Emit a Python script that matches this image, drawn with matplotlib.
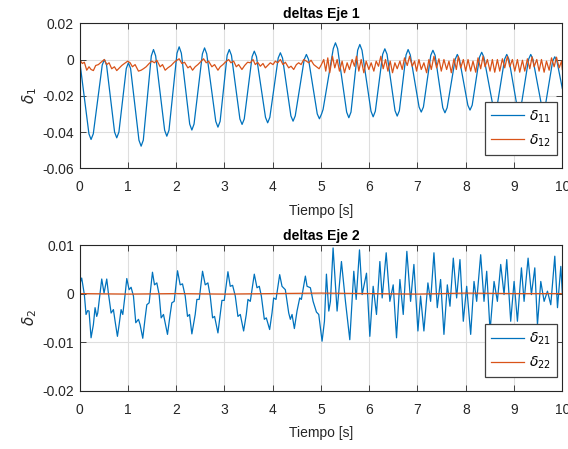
import numpy as np
import matplotlib
matplotlib.use("Agg")
import matplotlib.pyplot as plt

# colores por defecto de MATLAB
AZUL = "#0072BD"
NARANJA = "#D95319"
GRIS = "#262626"

# ---------------- datos ----------------
# Eje 1: delta 11 (azul)
t11 = [0.000, 0.195, 0.239, 0.285, 0.470, 0.515, 0.560, 0.726, 0.771, 0.816,
       0.968, 1.013, 1.058, 1.231, 1.276, 1.321, 1.487, 1.532, 1.577, 1.763,
       1.808, 1.853, 2.019, 2.064, 2.109, 2.282, 2.327, 2.372, 2.545, 2.590,
       2.635, 2.822, 2.867, 2.912, 3.057, 3.102, 3.147, 3.322, 3.367, 3.412,
       3.575, 3.620, 3.665, 3.852, 3.897, 3.942, 4.115, 4.160, 4.205, 4.378,
       4.423, 4.468, 4.654, 4.699, 4.744, 4.924, 4.969, 5.014, 5.045, 5.256,
       5.301, 5.346, 5.533, 5.578, 5.623, 5.761, 5.806, 5.851, 6.037, 6.082,
       6.127, 6.279, 6.324, 6.369, 6.535, 6.580, 6.625, 6.763, 6.806, 6.851,
       7.033, 7.078, 7.123, 7.275, 7.320, 7.365, 7.524, 7.569, 7.614, 7.780,
       7.825, 7.870, 8.043, 8.088, 8.133, 8.285, 8.330, 8.375, 8.561, 8.606,
       8.651, 8.804, 8.849, 8.894, 9.059, 9.104, 9.149, 9.301, 9.346, 9.391,
       9.564, 9.609, 9.654, 9.799, 9.844, 9.889, 10.000]
d11 = [0.0000, -0.0410, -0.0441, -0.0410, -0.0031, 0.0000, -0.0031, -0.0400, -0.0432, -0.0400,
       -0.0050, -0.0018, -0.0050, -0.0445, -0.0478, -0.0445, 0.0020, 0.0055, 0.0020, -0.0390,
       -0.0423, -0.0390, 0.0035, 0.0070, 0.0035, -0.0356, -0.0389, -0.0356, 0.0031, 0.0064,
       0.0031, -0.0341, -0.0373, -0.0341, 0.0023, 0.0055, 0.0023, -0.0328, -0.0358, -0.0328,
       0.0016, 0.0046, 0.0016, -0.0319, -0.0349, -0.0319, 0.0008, 0.0037, 0.0008, -0.0311,
       -0.0340, -0.0311, 0.0000, 0.0028, 0.0000, -0.0300, -0.0327, -0.0300, -0.0275, 0.0060,
       0.0092, 0.0060, -0.0290, -0.0321, -0.0290, 0.0051, 0.0083, 0.0051, -0.0285, -0.0316,
       -0.0285, 0.0029, 0.0059, 0.0029, -0.0282, -0.0312, -0.0282, 0.0025, 0.0055, 0.0025,
       -0.0262, -0.0290, -0.0262, 0.0023, 0.0051, 0.0023, -0.0266, -0.0294, -0.0266, 0.0000,
       0.0028, 0.0000, -0.0252, -0.0279, -0.0252, 0.0013, 0.0040, 0.0013, -0.0253, -0.0280,
       -0.0253, 0.0001, 0.0028, 0.0001, -0.0253, -0.0280, -0.0253, 0.0001, 0.0028, 0.0001,
       -0.0245, -0.0270, -0.0245, -0.0010, 0.0015, -0.0010, -0.0160]

# Eje 1: delta 12 (naranja)
t12 = [0.000, 0.059, 0.100, 0.149, 0.197, 0.239, 0.287, 0.335, 0.391, 0.446,
       0.515, 0.564, 0.612, 0.667, 0.723, 0.771, 0.826, 0.875, 0.930, 0.999,
       1.048, 1.096, 1.151, 1.221, 1.276, 1.324, 1.380, 1.442, 1.497, 1.553,
       1.601, 1.670, 1.719, 1.774, 1.829, 1.898, 1.961, 2.016, 2.064, 2.120,
       2.175, 2.244, 2.293, 2.341, 2.396, 2.451, 2.521, 2.569, 2.624, 2.673,
       2.742, 2.797, 2.867, 2.915, 2.970, 3.019, 3.088, 3.136, 3.192, 3.247,
       3.295, 3.364, 3.420, 3.482, 3.537, 3.593, 3.641, 3.690, 3.745, 3.800,
       3.849, 3.897, 3.952, 4.008, 4.056, 4.104, 4.160, 4.215, 4.263, 4.333,
       4.381, 4.436, 4.492, 4.540, 4.589, 4.644, 4.699, 4.747, 4.796, 4.851,
       4.907, 4.962, 5.010, 5.059, 5.100, 5.142, 5.183, 5.239, 5.287, 5.336,
       5.384, 5.439, 5.488, 5.543, 5.591, 5.647, 5.695, 5.737, 5.785, 5.834,
       5.889, 5.937, 5.993, 6.041, 6.096, 6.145, 6.193, 6.241, 6.290, 6.338,
       6.387, 6.435, 6.483, 6.532, 6.580, 6.636, 6.684, 6.732, 6.788, 6.836,
       6.891, 6.940, 6.981, 7.030, 7.078, 7.133, 7.189, 7.237, 7.286, 7.341,
       7.396, 7.444, 7.493, 7.548, 7.604, 7.652, 7.701, 7.756, 7.805, 7.846,
       7.895, 7.950, 7.998, 8.047, 8.102, 8.150, 8.206, 8.254, 8.309, 8.358,
       8.399, 8.448, 8.503, 8.551, 8.600, 8.655, 8.704, 8.759, 8.807, 8.863,
       8.911, 8.966, 9.015, 9.070, 9.118, 9.174, 9.222, 9.277, 9.326, 9.374,
       9.416, 9.471, 9.519, 9.568, 9.623, 9.672, 9.727, 9.776, 9.831, 9.879,
       9.935, 9.983, 10.000]
d12 = [0.0000, -0.0022, -0.0015, -0.0059, -0.0040, -0.0055, -0.0061, -0.0033, -0.0028, -0.0015,
       0.0000, -0.0028, -0.0018, -0.0051, -0.0040, -0.0061, -0.0046, -0.0033, -0.0022, -0.0009,
       -0.0018, -0.0040, -0.0028, -0.0064, -0.0059, -0.0051, -0.0040, -0.0022, -0.0009, -0.0018,
       -0.0004, -0.0040, -0.0028, -0.0059, -0.0046, -0.0033, -0.0015, -0.0004, 0.0004, -0.0022,
       -0.0015, -0.0046, -0.0037, -0.0059, -0.0040, -0.0028, -0.0009, 0.0004, -0.0018, -0.0009,
       -0.0040, -0.0028, -0.0059, -0.0040, -0.0028, -0.0015, 0.0000, -0.0018, -0.0009, -0.0040,
       -0.0028, -0.0055, -0.0033, -0.0015, -0.0018, 0.0000, -0.0028, -0.0015, -0.0037, -0.0022,
       -0.0046, -0.0033, -0.0018, -0.0028, -0.0009, -0.0018, 0.0000, -0.0028, -0.0015, -0.0046,
       -0.0037, -0.0055, -0.0028, -0.0018, -0.0028, 0.0000, -0.0009, -0.0018, -0.0004, -0.0028,
       -0.0040, -0.0051, -0.0028, 0.0000, -0.0064, 0.0009, -0.0073, 0.0018, -0.0046, 0.0000,
       -0.0064, -0.0009, -0.0073, -0.0018, -0.0055, 0.0000, -0.0037, 0.0018, -0.0064, 0.0000,
       -0.0073, -0.0009, -0.0055, -0.0018, -0.0064, -0.0009, -0.0037, 0.0018, -0.0051, 0.0000,
       -0.0064, -0.0009, -0.0073, -0.0018, -0.0051, -0.0009, -0.0055, 0.0009, -0.0033, 0.0018,
       -0.0037, -0.0009, -0.0064, 0.0000, -0.0055, -0.0018, -0.0073, 0.0000, -0.0055, 0.0018,
       -0.0046, 0.0004, -0.0064, 0.0000, -0.0055, -0.0009, -0.0073, 0.0004, -0.0055, 0.0018,
       -0.0046, 0.0000, -0.0064, 0.0000, -0.0064, -0.0009, -0.0070, 0.0009, -0.0051, 0.0018,
       -0.0040, 0.0000, -0.0064, 0.0000, -0.0070, 0.0000, -0.0064, 0.0004, -0.0046, 0.0018,
       -0.0040, 0.0000, -0.0064, 0.0000, -0.0070, -0.0004, -0.0064, 0.0004, -0.0051, 0.0015,
       -0.0040, 0.0000, -0.0064, 0.0000, -0.0070, -0.0009, -0.0059, 0.0009, -0.0040, 0.0013,
       -0.0046, -0.0009, -0.0055]

# Eje 2: delta 21 (azul)
t21 = [0.000, 0.045, 0.100, 0.135, 0.169, 0.197, 0.239, 0.287, 0.322, 0.356,
       0.377, 0.425, 0.460, 0.508, 0.564, 0.598, 0.654, 0.702, 0.737, 0.785,
       0.820, 0.861, 0.896, 0.944, 0.979, 1.027, 1.068, 1.117, 1.165, 1.221,
       1.255, 1.310, 1.359, 1.394, 1.442, 1.511, 1.553, 1.601, 1.649, 1.691,
       1.739, 1.774, 1.822, 1.877, 1.912, 1.961, 2.030, 2.085, 2.133, 2.189,
       2.237, 2.279, 2.327, 2.396, 2.431, 2.479, 2.548, 2.604, 2.659, 2.707,
       2.756, 2.797, 2.867, 2.915, 2.950, 2.998, 3.074, 3.122, 3.171, 3.226,
       3.281, 3.330, 3.399, 3.454, 3.489, 3.537, 3.620, 3.676, 3.724, 3.766,
       3.828, 3.869, 3.938, 3.987, 4.021, 4.070, 4.146, 4.194, 4.263, 4.333,
       4.367, 4.402, 4.450, 4.505, 4.561, 4.595, 4.678, 4.713, 4.782, 4.838,
       4.907, 4.955, 5.024, 5.073, 5.114, 5.163, 5.197, 5.252, 5.335, 5.425,
       5.508, 5.598, 5.681, 5.730, 5.799, 5.854, 5.944, 6.013, 6.082, 6.151,
       6.221, 6.269, 6.352, 6.428, 6.497, 6.566, 6.636, 6.705, 6.780, 6.857,
       6.926, 7.009, 7.064, 7.133, 7.216, 7.272, 7.341, 7.410, 7.479, 7.548,
       7.618, 7.673, 7.742, 7.811, 7.880, 7.949, 8.019, 8.102, 8.171, 8.226,
       8.309, 8.378, 8.434, 8.503, 8.586, 8.655, 8.724, 8.793, 8.849, 8.931,
       9.001, 9.070, 9.153, 9.208, 9.291, 9.360, 9.430, 9.485, 9.554, 9.623,
       9.692, 9.761, 9.844, 9.900, 9.969, 10.000]
d21 = [0.0018, 0.0032, -0.0002, -0.0043, -0.0035, -0.0036, -0.0091, -0.0064, -0.0029, -0.0047,
       -0.0040, 0.0001, 0.0030, 0.0001, 0.0030, 0.0001, -0.0040, -0.0033, -0.0057, -0.0088,
       -0.0064, -0.0033, -0.0043, -0.0002, 0.0031, 0.0008, 0.0013, -0.0005, -0.0060, -0.0053,
       -0.0064, -0.0092, -0.0050, -0.0023, -0.0019, 0.0044, 0.0018, 0.0022, -0.0002, -0.0050,
       -0.0043, -0.0060, -0.0084, -0.0043, -0.0019, -0.0016, 0.0047, 0.0018, 0.0020, -0.0005,
       -0.0047, -0.0043, -0.0083, -0.0043, -0.0012, -0.0012, 0.0046, 0.0018, 0.0022, -0.0005,
       -0.0050, -0.0047, -0.0081, -0.0043, -0.0014, -0.0014, 0.0045, 0.0015, 0.0017, -0.0005,
       -0.0047, -0.0043, -0.0077, -0.0043, -0.0012, -0.0016, 0.0040, 0.0012, 0.0015, -0.0005,
       -0.0053, -0.0050, -0.0074, -0.0040, -0.0009, -0.0012, 0.0039, 0.0015, 0.0008, -0.0040,
       -0.0053, -0.0043, -0.0072, -0.0036, -0.0009, -0.0012, 0.0036, 0.0015, 0.0012, -0.0016,
       -0.0038, -0.0043, -0.0098, -0.0057, 0.0040, -0.0036, -0.0016, 0.0094, -0.0036, 0.0066,
       -0.0016, -0.0095, 0.0046, -0.0012, 0.0090, -0.0002, 0.0042, -0.0088, 0.0015, -0.0043,
       0.0066, -0.0009, 0.0084, -0.0016, 0.0018, -0.0091, 0.0029, -0.0043, 0.0087, -0.0016,
       0.0060, -0.0077, -0.0005, -0.0077, 0.0022, -0.0016, 0.0084, -0.0029, 0.0029, -0.0084,
       0.0018, -0.0026, 0.0073, -0.0009, 0.0070, -0.0057, 0.0015, -0.0084, 0.0025, -0.0016,
       0.0080, -0.0016, 0.0046, -0.0077, 0.0025, -0.0016, 0.0060, -0.0002, 0.0070, -0.0057,
       0.0025, -0.0057, 0.0053, -0.0016, 0.0073, -0.0002, 0.0053, -0.0064, 0.0025, -0.0016,
       0.0005, -0.0023, 0.0077, -0.0029, 0.0056, 0.0001]

# Eje 2: delta 22 (naranja), practicamente nula
t22 = [0.0, 1.0, 2.0, 3.0, 4.0, 5.0, 6.0, 7.0, 8.0, 9.0, 10.0]
d22 = [0.0, -0.0001, 0.0, -0.0001, 0.0, 0.0001, 0.0, -0.0001, 0.0001, 0.0, 0.0]

x_ticks = list(range(0, 11))
y1_ticks = [-0.06, -0.04, -0.02, 0, 0.02]
y1_labels = ["-0.06", "-0.04", "-0.02", "0", "0.02"]
y2_ticks = [-0.02, -0.01, 0, 0.01]
y2_labels = ["-0.02", "-0.01", "0", "0.01"]

# ---------------- figura ----------------
plt.rcParams["font.family"] = ["Liberation Sans", "DejaVu Sans"]
plt.rcParams["mathtext.fontset"] = "dejavusans"

fig = plt.figure(figsize=(5.68, 4.49), dpi=100)
fig.patch.set_facecolor("white")

ax1 = fig.add_axes([0.140, 0.6252, 0.850, 0.3230])
ax2 = fig.add_axes([0.140, 0.1298, 0.850, 0.3245])


def estilo(ax, yticks, ylabels, ylim, titulo, ylab):
    ax.set_xlim(0, 10)
    ax.set_ylim(*ylim)
    ax.set_xticks(x_ticks)
    ax.set_xticklabels([str(x) for x in x_ticks])
    ax.set_yticks(yticks)
    ax.set_yticklabels(ylabels)
    ax.grid(True, color="#dedede", linewidth=0.8)
    ax.set_axisbelow(True)
    ax.tick_params(direction="in", top=True, right=True, length=4,
                   width=0.6, colors=GRIS, labelsize=10)
    ax.tick_params(axis="x", pad=8.5)
    ax.tick_params(axis="y", pad=4)
    for s in ax.spines.values():
        s.set_color(GRIS)
        s.set_linewidth(0.8)
    ax.set_title(titulo, fontsize=10, fontweight="bold", color="black", pad=3.5)
    ax.set_xlabel("Tiempo [s]", fontsize=10, color=GRIS, labelpad=7)
    ax.set_ylabel(ylab, fontsize=11, color=GRIS, labelpad=2)


ax1.plot(t11, d11, color=AZUL, lw=0.9, label=r"$\delta_{11}$")
ax1.plot(t12, d12, color=NARANJA, lw=0.9, label=r"$\delta_{12}$")
estilo(ax1, y1_ticks, y1_labels, (-0.06, 0.02), "deltas Eje 1", r"$\delta_1$")

ax2.plot(t21, d21, color=AZUL, lw=0.9, label=r"$\delta_{21}$")
ax2.plot(t22, d22, color=NARANJA, lw=0.9, label=r"$\delta_{22}$")
estilo(ax2, y2_ticks, y2_labels, (-0.02, 0.01), "deltas Eje 2", r"$\delta_2$")

for ax in (ax1, ax2):
    leg = ax.legend(loc="lower right", bbox_to_anchor=(0.9886, 0.092),
                    borderaxespad=0, fontsize=10, frameon=True, fancybox=False,
                    framealpha=1, edgecolor="#404040", handlelength=2.4,
                    borderpad=0.45, labelspacing=0.55, handletextpad=0.3)
    leg.get_frame().set_linewidth(0.9)

plt.savefig("out.png", dpi=100)
